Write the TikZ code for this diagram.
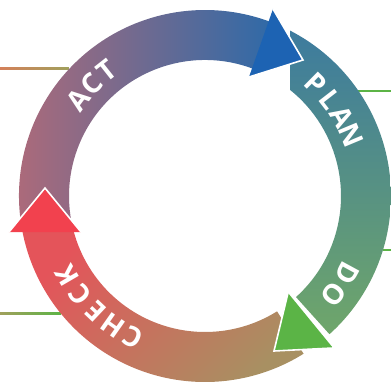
\documentclass[tikz,border=0pt]{standalone}
\usepackage{fontspec}
\setsansfont{Open Sans}
\usepackage{tikz}

\definecolor{actrose}{HTML}{B26A78}
\definecolor{actblue}{HTML}{2E6AA8}
\definecolor{plantop}{HTML}{3D7B9E}
\definecolor{planbot}{HTML}{6FA66A}
\definecolor{checkred}{HTML}{E4545A}
\definecolor{checkbrown}{HTML}{A89062}
\definecolor{headblue}{HTML}{1D63B3}
\definecolor{headgreen}{HTML}{5BB446}
\definecolor{headred}{HTML}{F2414E}
\definecolor{linkorange}{HTML}{D4805A}
\definecolor{linkolive}{HTML}{A0A05C}
\definecolor{linkgreen}{HTML}{5CB446}

\begin{document}
\begin{tikzpicture}[x=1pt, y=1pt,
		letter/.style={white, inner sep=0pt, font=\sffamily\bfseries\fontsize{28}{28}\selectfont},
		rim/.style={white, line width=1.6pt, line join=miter},
		link/.style={linkgreen, line width=2pt}]
		\useasboundingbox (-205,-192) rectangle (186,196);

		% Link lines to the labels outside the picture
		\coordinate (actout) at (-205,127);
		\coordinate (actring) at (-136,127);
		\coordinate (planring) at (153,105);
		\coordinate (planout) at (186,105);
		\coordinate (doring) at (178,-54);
		\coordinate (doout) at (186,-54);
		\coordinate (checkout) at (-205,-117);
		\coordinate (checkring) at (-144,-117);
		\shade [left color=linkorange, right color=linkolive] ([yshift=-1pt]actout) rectangle ([yshift=1pt]actring);
		\shade [left color=linkolive, right color=linkgreen] ([yshift=-1pt]checkout) rectangle ([yshift=1pt]checkring);
		\draw [link] (planring) -- (planout);
		\draw [link] (doring) -- (doout);

		% Ring bands
		\shade [left color=actrose, right color=actblue]
		(189.3:186) arc [start angle=189.3, end angle=68, radius=186]
		-- (68:136) arc [start angle=68, end angle=192.7, radius=136] -- cycle;
		\shade [top color=plantop, bottom color=planbot]
		(62.8:186) arc [start angle=62.8, end angle=-48, radius=186]
		-- (-48:136) arc [start angle=-48, end angle=51.3, radius=136] -- cycle;
		\shade [top color=checkred, bottom color=checkbrown, shading angle=45]
		(-58:186) arc [start angle=-58, end angle=-168.8, radius=186]
		-- (-164.7:136) arc [start angle=-164.7, end angle=-58, radius=136] -- cycle;

		% Arrow heads
		\coordinate (blueout) at (68,187);
		\coordinate (bluetip) at (98,136);
		\coordinate (bluein) at (44,119);
		\fill [headblue] (blueout) -- (bluetip) -- (bluein) -- cycle;
		\draw [rim] (blueout) -- (bluetip) -- (bluein);

		\coordinate (greenin) at (83,-97);
		\coordinate (greentip) at (69,-155);
		\coordinate (greenout) at (128,-152);
		\fill [headgreen] (greenin) -- (greentip) -- (greenout) -- cycle;
		\draw [rim] (greenin) -- (greentip) -- (greenout);

		\coordinate (redout) at (-196,-36);
		\coordinate (redtip) at (-160,8);
		\coordinate (redin) at (-124,-36);
		\fill [headred] (redout) -- (redtip) -- (redin) -- cycle;
		\draw [rim] (redout) -- (redtip) -- (redin);

		% Labels along the ring
		\foreach \l/\a [count=\i] in {A/142.8, C/135.5, T/128.2}
		\node (act\i) [letter, rotate=\a-90] at (\a:159) {\l};
		\foreach \l/\a [count=\i] in {P/45.4, L/37.8, A/30.2, N/22.6}
		\node (plan\i) [letter, rotate=\a-90] at (\a:158) {\l};
		\foreach \l/\a [count=\i] in {D/-28.5, O/-37.5}
		\node (do\i) [letter, rotate=\a-90] at (\a:162) {\l};
		\foreach \l/\a [count=\i] in {C/243, H/234.8, E/226.6, C/218.4, K/210.2}
		\node (check\i) [letter, rotate=\a-90] at (\a:159) {\l};
	\end{tikzpicture}
\end{document}
